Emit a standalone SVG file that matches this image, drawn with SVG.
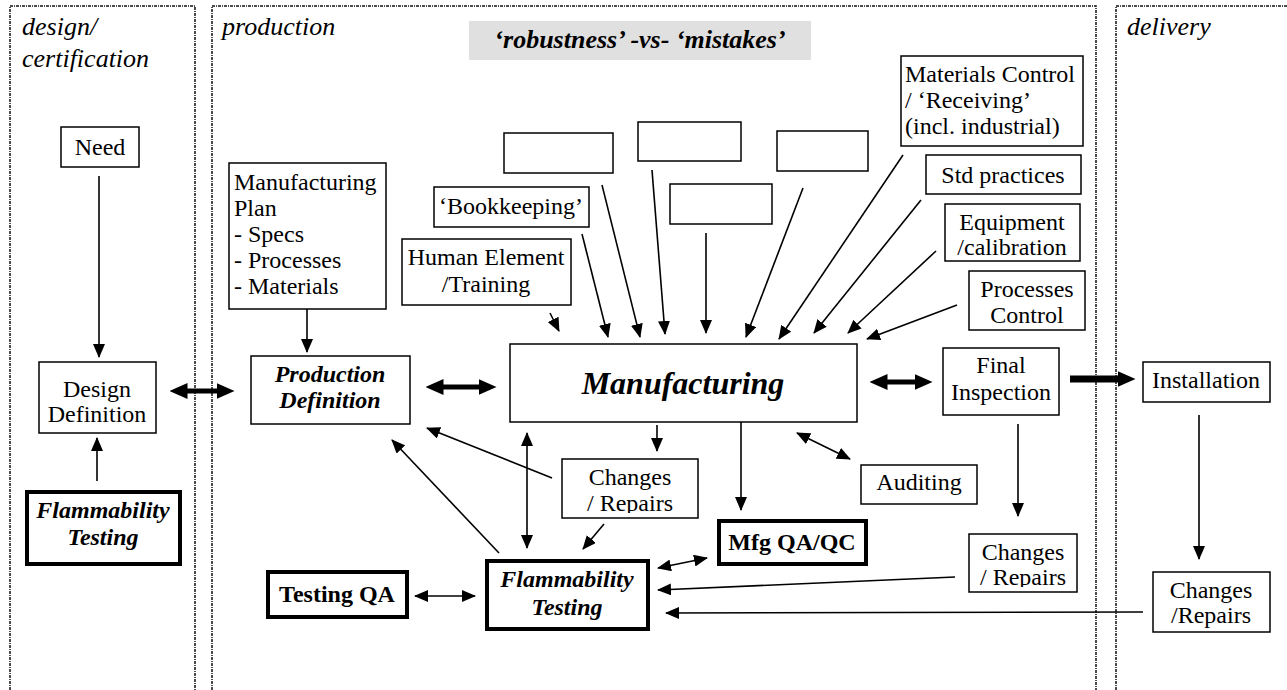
<svg xmlns="http://www.w3.org/2000/svg" width="1287" height="690" viewBox="0 0 1287 690">
<style>
.box{fill:#fff;stroke:#000;stroke-width:1.5}
.thick{fill:#fff;stroke:#000;stroke-width:4}
.t{font-family:"Liberation Serif","Times New Roman",serif;font-size:24px;fill:#000}
.c{text-anchor:middle}
.bi{font-weight:bold;font-style:italic}
.b{font-weight:bold}
.hd{font-style:italic;font-size:26px}
.panel{fill:none;stroke:#111;stroke-width:1.5;stroke-dasharray:3 1 1 1}
.ln{stroke:#000;stroke-width:1.6;fill:none}
.tk{stroke:#000;stroke-width:5;fill:none}
</style>
<defs>
<marker id="ah" markerUnits="userSpaceOnUse" markerWidth="14" markerHeight="12" refX="13" refY="6" orient="auto-start-reverse"><path d="M0,0L14,6L0,12z" fill="#000"/></marker>
<marker id="ahb" markerUnits="userSpaceOnUse" markerWidth="18" markerHeight="16" refX="0.5" refY="8" orient="auto-start-reverse"><path d="M0,0L18,8L0,16z" fill="#000"/></marker>
<clipPath id="clipCm"><rect x="562" y="459" width="136" height="54"/></clipPath>
<clipPath id="clipCr"><rect x="969" y="534" width="108" height="53"/></clipPath>
</defs>

<g id="panels">
<path class="panel" d="M10,690V6H195V690"/>
<path class="panel" d="M212,690V6H1096V690"/>
<path class="panel" d="M1116,690V6H1290"/>
<text class="t hd" x="22" y="35">design/</text>
<text class="t hd" x="22" y="67">certification</text>
<text class="t hd" x="222" y="35">production</text>
<text class="t hd" x="1127" y="35">delivery</text>
</g>

<g id="title">
<rect x="469" y="21" width="342" height="39" fill="#e0e0e0"/>
<text class="t c bi" x="640" y="48" style="font-size:26px">‘robustness’ -vs- ‘mistakes’</text>
</g>

<g id="connectors">
<line class="ln" x1="99" y1="176" x2="99" y2="357" marker-end="url(#ah)"/>
<line class="ln" x1="97" y1="481" x2="97" y2="438" marker-end="url(#ah)"/>
<line class="tk" x1="187" y1="391" x2="217" y2="391" marker-start="url(#ahb)" marker-end="url(#ahb)"/>
<line class="ln" x1="307" y1="309" x2="307" y2="352" marker-end="url(#ah)"/>
<line class="tk" x1="443" y1="387" x2="479" y2="387" marker-start="url(#ahb)" marker-end="url(#ahb)"/>
<line class="tk" x1="887" y1="382" x2="915" y2="382" marker-start="url(#ahb)" marker-end="url(#ahb)"/>
<line stroke="#000" stroke-width="7" x1="1070" y1="379" x2="1118" y2="379" marker-end="url(#ahb)"/>
<line class="ln" x1="550" y1="313" x2="559" y2="331" marker-end="url(#ah)"/>
<line class="ln" x1="582" y1="234" x2="608" y2="337" marker-end="url(#ah)"/>
<line class="ln" x1="602" y1="185" x2="640" y2="337" marker-end="url(#ah)"/>
<line class="ln" x1="652" y1="170" x2="665" y2="334" marker-end="url(#ah)"/>
<line class="ln" x1="706" y1="233" x2="706" y2="333" marker-end="url(#ah)"/>
<line class="ln" x1="803" y1="188" x2="746" y2="337" marker-end="url(#ah)"/>
<line class="ln" x1="903" y1="155" x2="779" y2="339" marker-end="url(#ah)"/>
<line class="ln" x1="921" y1="200" x2="814" y2="333" marker-end="url(#ah)"/>
<line class="ln" x1="936" y1="251" x2="848" y2="333" marker-end="url(#ah)"/>
<line class="ln" x1="957" y1="305" x2="867" y2="339" marker-end="url(#ah)"/>
<line class="ln" x1="527" y1="433" x2="527" y2="548" marker-start="url(#ah)" marker-end="url(#ah)"/>
<line class="ln" x1="552" y1="478" x2="427" y2="428" marker-end="url(#ah)"/>
<line class="ln" x1="499" y1="553" x2="392" y2="440" marker-end="url(#ah)"/>
<line class="ln" x1="657" y1="425" x2="657" y2="451" marker-end="url(#ah)"/>
<line class="ln" x1="604" y1="524" x2="583" y2="549" marker-end="url(#ah)"/>
<line class="ln" x1="741" y1="422" x2="741" y2="510" marker-end="url(#ah)"/>
<line class="ln" x1="658" y1="568" x2="707" y2="558" marker-start="url(#ah)" marker-end="url(#ah)"/>
<line class="ln" x1="797" y1="433" x2="850" y2="459" marker-start="url(#ah)" marker-end="url(#ah)"/>
<line class="ln" x1="415" y1="596" x2="475" y2="596" marker-start="url(#ah)" marker-end="url(#ah)"/>
<line class="ln" x1="1018" y1="424" x2="1018" y2="516" marker-end="url(#ah)"/>
<line class="ln" x1="955" y1="577" x2="658" y2="590" marker-end="url(#ah)"/>
<line class="ln" x1="1199" y1="415" x2="1199" y2="559" marker-end="url(#ah)"/>
<line class="ln" x1="1143" y1="612" x2="666" y2="613" marker-end="url(#ah)"/>
</g>

<g id="need"><rect class="box" x="61" y="127" width="78" height="40"/><text class="t c" x="100" y="155">Need</text></g>
<g id="design-definition"><rect class="box" x="39" y="362" width="117" height="71"/><text class="t c" x="97" y="397">Design</text><text class="t c" x="97" y="422">Definition</text></g>
<g id="flammability-left"><rect class="thick" x="27" y="492" width="153" height="72"/><text class="t c bi" x="103" y="518">Flammability</text><text class="t c bi" x="103" y="545">Testing</text></g>

<g id="manufacturing-plan"><rect class="box" x="229" y="163" width="157" height="146"/>
<text class="t" x="234" y="190">Manufacturing</text><text class="t" x="234" y="216">Plan</text><text class="t" x="234" y="242">- Specs</text><text class="t" x="234" y="268">- Processes</text><text class="t" x="234" y="294">- Materials</text></g>
<g id="production-definition"><rect class="box" x="251" y="356" width="159" height="68"/><text class="t c bi" x="330" y="382">Production</text><text class="t c bi" x="330" y="408">Definition</text></g>
<g id="human-element"><rect class="box" x="402" y="239" width="169" height="66"/><text class="t c" x="486" y="265">Human Element</text><text class="t c" x="486" y="292">/Training</text></g>
<g id="bookkeeping"><rect class="box" x="434" y="187" width="155" height="40"/><text class="t c" x="511" y="214">‘Bookkeeping’</text></g>
<g id="empty-a"><rect class="box" x="504" y="133" width="109" height="40"/></g>
<g id="empty-b"><rect class="box" x="638" y="122" width="103" height="39"/></g>
<g id="empty-c"><rect class="box" x="777" y="131" width="91" height="40"/></g>
<g id="empty-d"><rect class="box" x="670" y="184" width="102" height="40"/></g>
<g id="materials-control"><rect class="box" x="901" y="56" width="182" height="90"/>
<text class="t" x="905" y="82">Materials Control</text><text class="t" x="905" y="108">/ ‘Receiving’</text><text class="t" x="905" y="134">(incl. industrial)</text></g>
<g id="std-practices"><rect class="box" x="926" y="155" width="155" height="39"/><text class="t c" x="1003" y="183">Std practices</text></g>
<g id="equipment"><rect class="box" x="945" y="204" width="135" height="57"/><text class="t c" x="1012" y="230">Equipment</text><text class="t c" x="1012" y="255">/calibration</text></g>
<g id="processes-control"><rect class="box" x="969" y="271" width="116" height="59"/><text class="t c" x="1027" y="297">Processes</text><text class="t c" x="1027" y="323">Control</text></g>
<g id="manufacturing"><rect class="box" x="510" y="344" width="347" height="78"/><text class="t c bi" x="683" y="394" style="font-size:32px">Manufacturing</text></g>
<g id="final-inspection"><rect class="box" x="943" y="348" width="116" height="67"/><text class="t c" x="1001" y="373">Final</text><text class="t c" x="1001" y="400">Inspection</text></g>
<g id="installation"><rect class="box" x="1143" y="362" width="127" height="40"/><text class="t c" x="1206" y="388">Installation</text></g>
<g id="changes-mid"><rect class="box" x="562" y="459" width="136" height="59"/><g clip-path="url(#clipCm)"><text class="t c" x="630" y="485">Changes</text><text class="t c" x="630" y="511">/ Repairs</text></g></g>
<g id="auditing"><rect class="box" x="861" y="465" width="116" height="39"/><text class="t c" x="919" y="490">Auditing</text></g>
<g id="mfg-qaqc"><rect class="thick" x="719" y="521" width="147" height="43"/><text class="t c b" x="792" y="550">Mfg QA/QC</text></g>
<g id="changes-right"><rect class="box" x="969" y="534" width="108" height="58"/><g clip-path="url(#clipCr)"><text class="t c" x="1023" y="560">Changes</text><text class="t c" x="1023" y="585">/ Repairs</text></g></g>
<g id="changes-delivery"><rect class="box" x="1153" y="572" width="117" height="60"/><text class="t c" x="1211" y="598">Changes</text><text class="t c" x="1211" y="623">/Repairs</text></g>
<g id="testing-qa"><rect class="thick" x="268" y="572" width="139" height="45"/><text class="t c b" x="337" y="602">Testing QA</text></g>
<g id="flammability-mid"><rect class="thick" x="487" y="561" width="161" height="68"/><text class="t c bi" x="567" y="587">Flammability</text><text class="t c bi" x="567" y="615">Testing</text></g>
</svg>
